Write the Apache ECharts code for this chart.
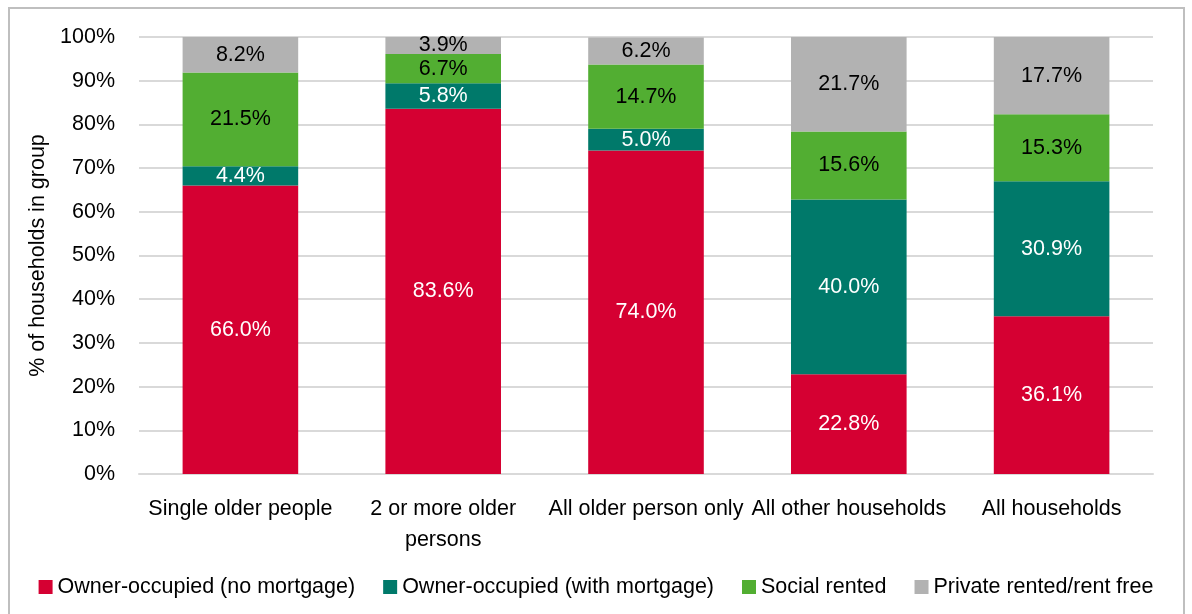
<!DOCTYPE html>
<html>
<head>
<meta charset="utf-8">
<script src="https://cdn.jsdelivr.net/npm/echarts@6/dist/echarts.min.js"></script>
<style>html,body{margin:0;padding:0;background:#fff}#c{width:1192px;height:614px}</style>
</head>
<body>
<div id="c"></div>
<script>
const categories = ['Single older people', '2 or more older\npersons', 'All older person only', 'All other households', 'All households'];
const seriesNames = ['Owner-occupied (no mortgage)', 'Owner-occupied (with mortgage)', 'Social rented', 'Private rented/rent free'];
const ownerNoMortgage = [66.0, 83.6, 74.0, 22.8, 36.1];
const ownerMortgage = [4.4, 5.8, 5.0, 40.0, 30.9];
const socialRented = [21.5, 6.7, 14.7, 15.6, 15.3];
const privateRented = [8.2, 3.9, 6.2, 21.7, 17.7];
const yTicks = [0, 10, 20, 30, 40, 50, 60, 70, 80, 90, 100];

const colors = ['#D50032', '#00796A', '#52AE32', '#B2B2B2'];
const labelColors = ['#fff', '#fff', '#000', '#000'];
const values = [ownerNoMortgage, ownerMortgage, socialRented, privateRented];
const FONT = '"Liberation Sans", Arial, sans-serif';
const FS = 21.5;

const chart = echarts.init(document.getElementById('c'), null, {renderer: 'canvas'});
chart.setOption({
  animation: false,
  textStyle: {fontFamily: FONT},
  graphic: [{
    type: 'rect', shape: {x: 9, y: 8, width: 1175, height: 620},
    style: {fill: 'none', stroke: '#BFBFBF', lineWidth: 2}, silent: true
  }],
  legend: {
    bottom: 11, left: 'center', itemWidth: 14, itemHeight: 14, itemGap: 28,
    icon: 'rect',
    textStyle: {fontSize: FS, color: '#000', fontFamily: FONT},
    data: seriesNames
  },
  grid: {left: 139, right: 39, top: 37, bottom: 140, containLabel: false},
  xAxis: {
    type: 'category', data: categories,
    axisLine: {show: true, lineStyle: {color: '#D9D9D9', width: 2}},
    axisTick: {show: false},
    axisLabel: {fontSize: FS, color: '#000', margin: 20, lineHeight: 31, interval: 0, fontFamily: FONT}
  },
  yAxis: {
    type: 'value', min: 0, max: 100, interval: 10,
    name: '% of households in group', nameLocation: 'middle', nameGap: 88,
    nameTextStyle: {fontSize: FS, color: '#000', fontFamily: FONT},
    axisLine: {show: false}, axisTick: {show: false},
    axisLabel: {fontSize: FS, color: '#000', margin: 24, formatter: v => yTicks.includes(v) ? v + '%' : '', fontFamily: FONT},
    splitLine: {lineStyle: {color: '#D9D9D9', width: 2}}
  },
  series: seriesNames.map((name, i) => ({
    name, type: 'bar', stack: 'total', barWidth: '57%',
    data: values[i],
    itemStyle: {color: colors[i]},
    label: {
      show: true, position: 'inside', fontSize: FS, color: labelColors[i], fontFamily: FONT,
      formatter: p => p.value.toFixed(1) + '%'
    }
  }))
});
</script>
</body>
</html>
